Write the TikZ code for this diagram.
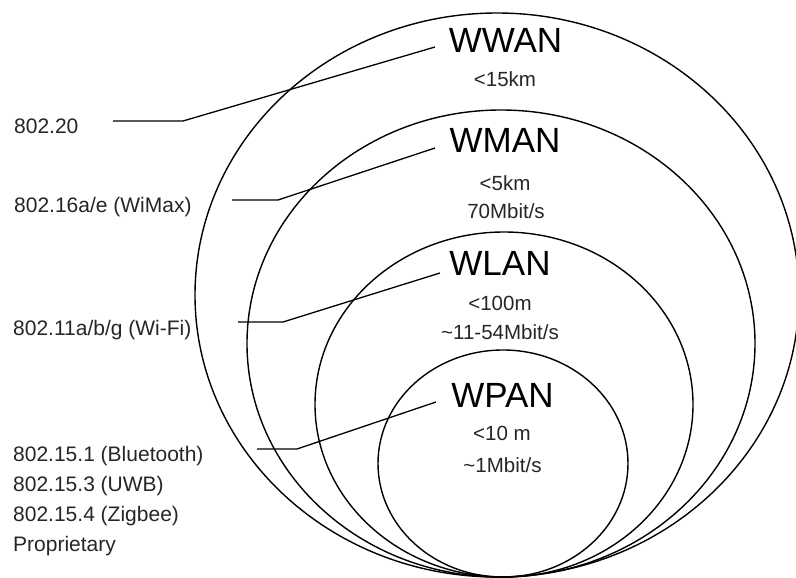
\documentclass[tikz,border=0pt]{standalone}
\usepackage{fontspec}
\setmainfont{Liberation Sans}
\begin{document}
\begin{tikzpicture}[x=1pt,y=-1pt,
  ring/.style={draw=black,line width=1.4pt},
  lead/.style={draw=black,line width=1.3pt},
  big/.style={font=\fontsize{35}{40}\selectfont,anchor=base,inner sep=0pt},
  small/.style={font=\fontsize{20.5}{24}\selectfont,anchor=base,inner sep=0pt,text=black!85},
  lab/.style={font=\fontsize{21}{24}\selectfont,anchor=base west,inner sep=0pt,text=black!85}]
\useasboundingbox[fill=white] (0,0) rectangle (796,578);
% ellipses
\draw[ring] (497,295) ellipse [x radius=302, y radius=282];
\draw[ring] (501,343.5) ellipse [x radius=254, y radius=233.5];
\draw[ring] (504,404.5) ellipse [x radius=189, y radius=172.5];
\draw[ring] (503,463.5) ellipse [x radius=125, y radius=113.5];
% titles
\node[big] (wwan) at (505.5,53) {WWAN};
\node[small] (wwan1) at (505,87) {<15km};
\node[big] (wman) at (505,153) {WMAN};
\node[small] (wman1) at (505,190) {<5km};
\node[small] (wman2) at (506,218) {70Mbit/s};
\node[big] (wlan) at (500,275) {WLAN};
\node[small] (wlan1) at (500,310) {<100m};
\node[small] (wlan2) at (500,339) {{\char126\relax}11-54Mbit/s};
\node[big] (wpan) at (502.5,407) {WPAN};
\node[small] (wpan1) at (502,440) {<10 m};
\node[small] (wpan2) at (502.5,472) {{\char126\relax}1Mbit/s};
% left labels
\node[lab] (l1) at (14,133) {802.20};
\node[lab] (l2) at (14,212) {802.16a/e (WiMax)};
\node[lab] (l3) at (13,335) {802.11a/b/g (Wi-Fi)};
\node[lab] (l4) at (13,461) {802.15.1 (Bluetooth)};
\node[lab] (l5) at (13,491) {802.15.3 (UWB)};
\node[lab] (l6) at (13,521) {802.15.4 (Zigbee)};
\node[lab] (l7) at (13,551) {Proprietary};
% leader coordinates
\coordinate (a1) at (113,121); \coordinate (b1) at (183,121); \coordinate (c1) at (435,47);
\coordinate (a2) at (232,200); \coordinate (b2) at (278,200); \coordinate (c2) at (435,148);
\coordinate (a3) at (238,322); \coordinate (b3) at (283,322); \coordinate (c3) at (440,273);
\coordinate (a4) at (257,449); \coordinate (b4) at (297,449); \coordinate (c4) at (436,402);
\draw[lead] (a1) -- (b1) -- (c1);
\draw[lead] (a2) -- (b2) -- (c2);
\draw[lead] (a3) -- (b3) -- (c3);
\draw[lead] (a4) -- (b4) -- (c4);
\end{tikzpicture}
\end{document}
